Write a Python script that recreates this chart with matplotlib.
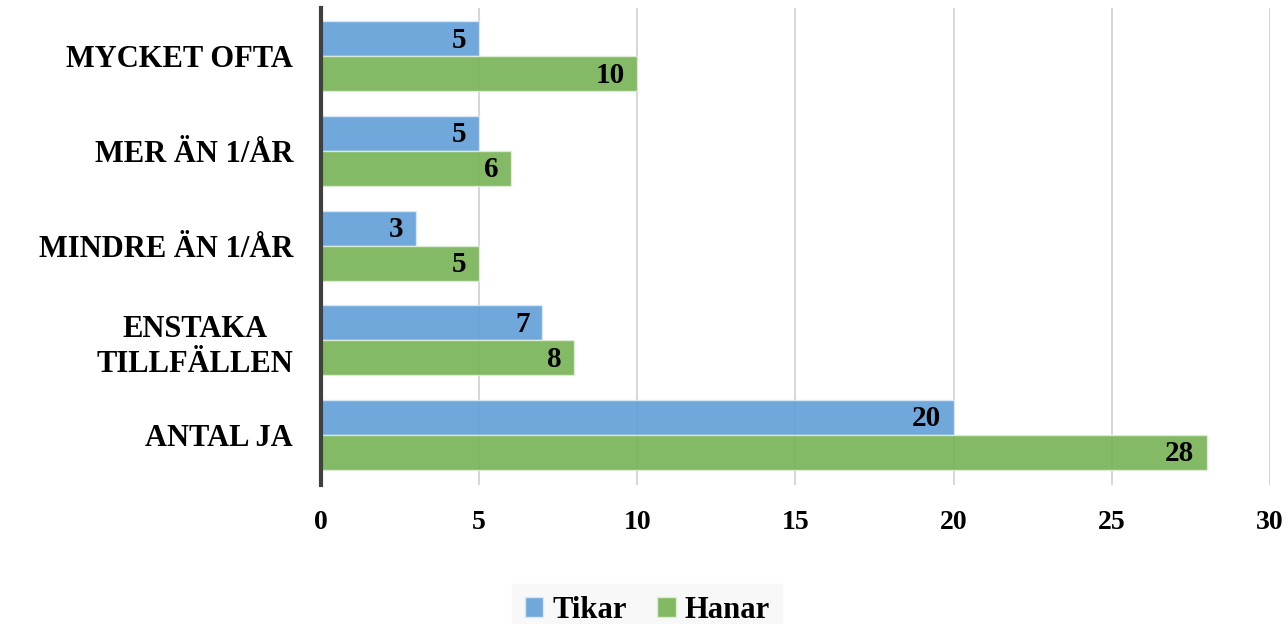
import matplotlib.pyplot as plt
import numpy as np

categories = ["MYCKET OFTA", "MER ÄN 1/ÅR", "MINDRE ÄN 1/ÅR", "ENSTAKA\nTILLFÄLLEN", "ANTAL JA"]
tikar = [5, 5, 3, 7, 20]
hanar = [10, 6, 5, 8, 28]
xticks = [0, 5, 10, 15, 20, 25, 30]

plt.rcParams['font.family'] = ['Liberation Serif', 'DejaVu Serif']
plt.rcParams['font.weight'] = 'bold'

fig = plt.figure(figsize=(12.87, 6.24), dpi=100)
ax = fig.add_axes([0.2494, 0.2228, 0.7374, 0.7642])

# top category at top
y = np.arange(len(categories))[::-1]
h = 0.37
blue = "#629fd7"
green = "#77b254"

b1 = ax.barh(y + h / 2, tikar, height=h, color=blue, alpha=0.9,
             edgecolor="#dbe9f5", linewidth=1, label="Tikar", zorder=2)
b2 = ax.barh(y - h / 2, hanar, height=h, color=green, alpha=0.9,
             edgecolor="#e0eed8", linewidth=1, label="Hanar", zorder=2)

for bars, vals in [(b1, tikar), (b2, hanar)]:
    for bar, v in zip(bars, vals):
        ax.annotate(str(v), (v, bar.get_y() + bar.get_height() / 2),
                    xytext=(-9, -1), textcoords="offset points",
                    ha="right", va="center", fontsize=21, fontweight="bold",
                    color="black", zorder=3)

ax.set_xlim(0, 30)
ax.set_ylim(-0.53, 4.51)
ax.set_xticks(xticks)
ax.set_xticklabels([str(t) for t in xticks], fontsize=20, fontweight="bold")
ax.set_yticks(y)
ax.set_yticklabels(categories, fontsize=22, fontweight="bold", linespacing=1.3)
for lab in ax.get_yticklabels():
    lab.set_multialignment("center")
ax.tick_params(axis="both", length=0)
ax.tick_params(axis="x", pad=18)
ax.tick_params(axis="y", pad=20)

ax.grid(axis="x", color="#d0d0d0", linewidth=1.2, zorder=0)
ax.set_axisbelow(True)
for side in ["top", "right", "bottom"]:
    ax.spines[side].set_visible(False)
ax.spines["left"].set_color("#404040")
ax.spines["left"].set_linewidth(3)
ax.spines["left"].set_zorder(4)

leg = fig.legend(handles=[b1, b2], loc="center", bbox_to_anchor=(0.503, 0.022),
                 ncol=2, frameon=True, prop={"weight": "bold", "size": 22},
                 handlelength=0.6, handleheight=0.6, handletextpad=0.3,
                 columnspacing=1.0, borderpad=0.4)
leg.get_frame().set_facecolor("#f7f7f7")
leg.get_frame().set_edgecolor("#f7f7f7")
leg.get_frame().set_boxstyle("square", pad=0)

fig.savefig("out.png", dpi=100)
